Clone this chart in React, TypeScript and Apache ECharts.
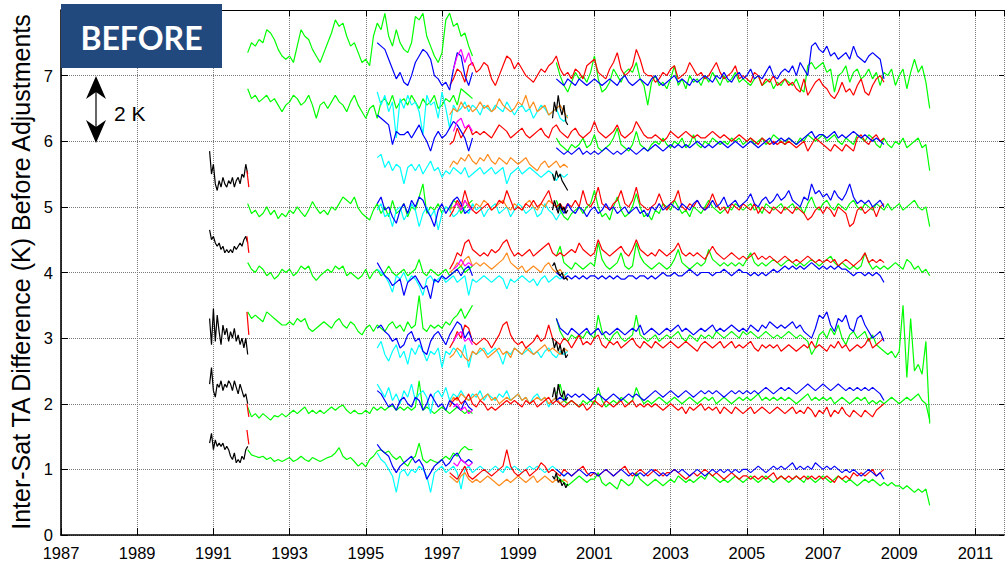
import React, { useEffect, useRef } from "react";
import * as echarts from "echarts";

// All values in hundredths of a kelvin (K x 100), sampled at regular steps in years.
// ---------- Black, early period (1990.9 - 1991.9, step 0.05 yr)
const BLACK_EARLY_START = 1990.9;
const BLACK_EARLY_STEP = 0.05;
const K_E54 = [585,550,565,535,525,540,530,545,535,530,540,535,545,530,540,545,535,550,545,565,550];
const K_E44 = [465,450,455,445,440,445,435,440,430,435,430,435,430,440,435,440,445,440,450,455,445];
const K_E30 = [330,290,345,295,335,310,290,320,305,315,295,310,300,315,295,305,290,300,285,300,275];
const K_E22 = [230,255,220,210,230,225,235,220,230,225,235,230,220,235,225,215,230,220,210,215,200];
const K_E13 = [140,155,130,145,135,140,135,140,130,135,130,120,115,125,110,115,110,120,115,130,135];

// ---------- Short red joins at end of 1991 (start 1991.88, step 0.05)
const RED_TAIL_START = 1991.88;
const RED_TAIL_STEP = 0.05;
const RT_54 = [555, 530];
const RT_44 = [455, 430];
const RT_30 = [340, 305];
const RT_22 = [200, 180];
const RT_13 = [160, 138];

// ---------- Green, early period (1991.9 - 1997.8, step 0.1)
const GREEN_EARLY_START = 1991.9;
const G_E75 = [735,750,745,755,750,770,765,755,740,730,725,730,720,745,770,760,755,740,730,720,735,750,765,785,775,780,760,745,750,735,720,725,715,760,780,770,795,760,745,770,750,740,735,750,790,785,795,760,745,730,720,735,785,795,775,780,760,765,745,730];
const G_E66 = [680,665,670,660,665,670,660,665,655,645,655,660,670,665,655,660,670,655,635,655,660,650,660,670,660,655,645,660,670,655,645,635,650,655,635,660,665,655,670,650,660,665,655,670,660,650,665,655,660,670,650,655,665,660,670,655,680,675,670,665];
const G_E50 = [505,490,495,485,490,500,488,495,482,490,485,495,490,500,492,485,495,508,498,490,495,488,500,495,505,515,510,505,515,498,490,485,480,495,505,490,500,485,510,490,495,505,485,500,495,515,535,490,500,495,505,490,500,495,510,505,490,500,505,510];
const G_E41 = [415,405,400,410,405,395,400,390,395,405,400,405,395,400,410,405,410,395,388,395,400,405,400,410,405,410,395,400,395,390,395,405,390,400,405,395,400,410,400,395,400,405,395,400,405,420,400,395,405,400,395,400,405,395,400,405,410,400,405,410];
const G_E32 = [340,330,335,330,325,340,335,330,325,320,320,325,320,330,325,330,315,310,315,320,325,320,315,325,330,320,315,325,320,310,305,315,320,310,320,315,310,320,325,315,320,310,325,315,320,365,315,310,320,315,320,315,325,320,330,335,345,330,340,350];
const G_E19 = [195,180,185,178,185,180,175,182,180,185,180,185,190,185,190,195,185,190,185,190,185,190,195,190,195,198,190,185,190,185,185,190,185,195,190,195,190,195,197,190,195,190,195,190,195,235,190,195,190,185,190,195,190,185,190,195,190,185,190,185];
const G_E12 = [130,122,120,118,120,115,118,112,115,112,115,118,112,115,120,115,112,118,115,112,115,118,120,125,133,120,115,118,112,105,110,104,115,120,128,130,125,128,120,115,120,110,105,115,120,140,115,110,115,112,110,115,120,115,125,120,130,135,130,130];

// ---------- Blue, early period (1995.3 - 1997.8, step 0.1)
const BLUE_EARLY_START = 1995.3;
const B_E72 = [750,745,740,725,710,695,705,690,685,700,720,730,740,735,725,700,695,685,690,678,710,735,730,700,685,705];
const B_E61 = [640,635,630,625,595,615,610,610,615,605,615,625,610,600,585,605,615,605,610,620,630,625,615,605,585,605];
const B_E50 = [505,515,495,500,485,475,495,505,490,510,500,515,510,495,485,470,495,505,490,500,510,515,505,490,495,500];
const B_E39 = [415,405,395,390,380,385,390,365,385,390,395,385,375,380,360,390,385,395,390,395,400,405,395,405,410,395];
const B_E30 = [315,320,310,305,295,300,285,290,305,310,295,300,280,275,295,305,310,300,290,305,315,325,320,300,310,295];
const B_E20 = [220,215,205,195,200,190,205,210,200,195,210,205,190,200,215,205,195,200,190,205,200,195,190,205,195,190];
const B_E11 = [138,130,125,120,105,95,105,110,115,120,110,115,105,85,95,105,110,115,105,110,120,125,115,110,115,110];

// ---------- Cyan (1995.3 - 2000.3, step 0.1)
const CYAN_START = 1995.3;
const C65 = [675,655,670,645,660,605,665,650,670,655,660,645,610,670,655,660,635,675,650,620,655,645,650,660,645,655,650,640,655,650,645,655,650,645,660,650,640,650,655,645,650,635,645,655,650,640,645,650,635,630,640];
const C56 = [575,580,560,570,555,565,560,535,560,565,555,565,550,560,570,555,560,545,555,550,560,555,550,560,545,550,555,560,550,555,560,550,555,560,535,550,555,560,550,555,560,555,550,545,550,555,550,540,550,545,550];
const C49 = [495,505,485,490,470,495,500,480,490,505,495,470,490,500,485,495,465,490,500,495,485,490,500,495,490,505,495,500,485,495,500,505,490,495,500,485,495,505,500,490,495,500,485,490,505,495,490,480,490,495,500];
const C39 = [405,400,395,385,370,395,390,400,385,395,390,380,365,390,395,385,390,395,385,390,395,385,390,395,365,390,385,390,395,390,385,390,395,390,375,390,385,390,395,390,385,390,380,390,395,385,390,395,390,395,400];
const C28 = [285,295,275,265,280,290,270,280,260,285,275,290,280,265,280,275,285,255,280,275,285,280,270,290,255,280,275,280,285,275,280,285,275,260,280,275,285,280,275,280,285,275,280,270,280,285,275,270,280,275,280];
const C20 = [230,220,210,225,205,215,200,220,210,230,205,215,220,210,185,215,220,210,225,205,215,210,220,210,205,215,210,220,205,215,210,205,215,210,220,205,210,215,205,210,200,210,215,205,210,195,205,210,200,205,210];
const C10 = [125,115,110,100,90,65,95,100,90,100,95,105,100,90,65,95,100,105,95,100,105,95,70,100,105,95,100,105,100,95,100,105,100,95,105,100,105,100,95,100,105,100,105,100,95,100,105,100,95,90,95];

// ---------- Orange (1997.2 - 2000.3, step 0.1)
const ORANGE_START = 1997.2;
const O65 = [640,650,645,660,650,655,645,650,660,650,655,645,650,665,655,650,645,650,660,655,670,650,660,645,650,655,640,645,650,655,645,635];
const O56 = [560,570,565,575,570,580,570,565,575,570,580,570,565,575,570,565,575,570,565,570,575,565,560,555,565,570,560,565,570,560,565,560];
const O50 = [495,500,505,495,510,500,495,505,500,510,505,495,500,505,510,500,495,505,500,495,505,510,500,495,505,500,510,505,500,505,495,500];
const O41 = [400,405,415,410,420,425,410,415,410,415,410,405,410,415,420,430,415,410,405,410,400,405,410,405,400,410,415,405,400,405,395,390];
const O28 = [270,275,285,280,270,265,280,275,285,280,270,275,280,285,275,280,270,285,280,275,285,280,275,280,285,290,280,285,280,275,285,280];
const O20 = [200,210,205,215,210,205,210,215,205,210,215,205,210,200,205,210,205,210,215,205,210,200,205,210,205,210,200,205,210,200,205,200];
const O08 = [90,85,80,90,95,85,80,85,80,85,90,85,80,75,80,85,80,85,90,85,80,85,90,80,85,90,85,80,85,80,85,80];

// ---------- Magenta (1997.3 - 1997.8, step 0.1)
const MAGENTA_START = 1997.3;
const M72 = [710,730,740,720,735,715];
const M62 = [615,630,635,620,625,615];
const M50 = [500,505,495,510,500,495];
const M41 = [405,410,420,410,415,410];
const M29 = [295,305,310,295,300,290];
const M19 = [195,200,190,195,185,190];
const M11 = [110,105,115,110,105,110];

// ---------- Black, late period (1999.9 - 2000.3, step 0.05)
const BLACK_LATE_START = 1999.9;
const BLACK_LATE_STEP = 0.05;
const K_L64 = [635,660,645,670,650,640,655,630,625];
const K_L54 = [550,540,555,545,550,540,535,530,525];
const K_L50 = [495,510,500,490,505,495,500,490,495];
const K_L40 = [410,415,405,400,395,400,390,392,388];
const K_L28 = [300,285,295,280,290,275,285,270,275];
const K_L21 = [210,225,205,230,215,210,220,205,210];
const K_L08 = [90,85,95,80,85,75,80,72,78];

// ---------- Red (1997.2 - 2008.6, step 0.1)
const RED_START = 1997.2;
const R70 = [685,695,710,705,690,715,720,705,710,720,715,695,685,700,715,730,725,710,720,710,700,695,690,700,710,705,715,720,730,710,700,705,695,710,705,695,715,720,725,705,700,695,710,720,735,710,700,705,715,740,725,705,700,700,690,695,705,700,710,715,695,700,705,720,710,700,705,695,700,710,720,705,695,700,705,715,695,700,695,690,705,700,685,695,690,700,685,690,695,685,690,680,675,695,670,680,690,695,685,680,670,665,675,690,675,680,670,685,695,675,670,685,695,700,690];
const R61 = [595,600,620,605,615,625,610,615,610,615,610,605,615,625,620,615,605,610,615,620,610,605,610,615,620,610,605,620,625,615,610,605,615,620,610,605,610,615,630,615,610,605,610,615,625,610,605,610,615,630,620,610,605,605,610,605,600,605,615,610,605,610,615,610,605,610,605,605,610,615,610,605,610,605,600,605,610,605,600,605,600,595,605,600,595,600,595,600,595,600,595,590,595,600,585,595,605,600,595,590,585,595,590,585,595,590,585,605,610,600,595,605,610,600,605];
const R50 = [485,495,510,500,525,505,495,490,495,500,505,495,500,510,505,525,510,495,500,495,505,500,510,500,505,515,525,505,500,505,495,505,500,510,500,525,505,500,510,530,505,500,495,505,510,525,505,500,510,530,505,500,495,500,505,520,505,495,505,510,525,500,495,505,500,510,500,495,505,520,505,495,500,490,505,500,495,505,500,495,505,490,500,495,490,500,495,490,500,495,490,500,495,490,480,485,495,500,490,500,495,485,500,495,490,470,475,495,500,490,495,500,485,500,505];
const R43 = [405,415,430,425,445,450,435,430,425,430,425,435,430,435,445,450,435,425,430,425,430,435,425,430,435,440,445,430,425,430,425,430,435,430,445,435,430,425,430,450,435,430,425,430,435,440,430,425,435,450,435,430,425,430,425,435,430,425,430,435,445,430,425,430,425,430,425,420,430,440,430,425,420,425,430,425,420,425,420,425,430,420,425,420,425,420,415,420,425,420,415,420,415,420,425,420,415,420,415,420,415,420,410,415,420,415,410,415,420,430,415,420,415,420,415];
const R29 = [285,295,310,300,320,315,295,290,295,300,295,285,295,305,320,325,305,295,290,295,285,290,295,305,295,300,320,300,295,290,300,295,285,295,305,290,295,290,300,305,290,285,295,290,295,285,290,295,300,290,285,295,290,285,295,290,285,290,295,290,285,290,295,290,285,280,290,295,290,285,290,295,285,290,295,285,290,285,290,295,285,280,290,285,290,285,290,280,285,290,285,280,285,290,285,295,285,290,285,280,290,285,295,285,290,280,285,290,285,290,300,285,290,295,300];
const R20 = [195,205,210,200,205,215,200,195,205,200,190,195,190,195,200,205,200,205,200,195,205,200,205,195,200,205,210,200,205,200,195,200,205,200,195,200,190,195,205,200,195,205,200,195,200,205,195,200,205,195,200,195,200,195,200,195,190,195,200,195,190,195,185,195,190,195,200,190,195,190,195,185,195,190,185,195,190,185,190,195,185,190,195,190,185,190,195,190,185,190,195,185,190,185,195,190,180,190,185,195,180,190,185,195,185,180,190,185,180,190,185,180,190,195,200];
const R10 = [95,90,85,95,105,90,85,90,95,100,95,90,95,100,105,130,105,95,90,95,100,90,95,100,110,105,95,100,95,90,100,95,90,95,100,105,95,90,95,90,95,100,95,90,95,100,105,95,90,95,100,95,90,95,100,95,90,95,95,100,95,90,85,90,95,90,95,100,95,90,95,90,85,90,95,90,85,90,90,85,90,85,90,85,90,95,85,90,85,90,85,90,85,90,85,90,85,90,85,90,85,80,90,85,90,85,95,90,95,90,95,100,90,95,100];

// ---------- Blue, late period (2000.0 - 2008.6, step 0.1)
const BLUE_LATE_START = 2000.0;
const B_L70 = [695,690,685,695,690,685,695,690,685,690,695,690,685,690,695,690,685,695,700,690,685,690,695,690,685,695,700,690,685,690,695,700,690,695,690,685,695,690,695,700,695,690,700,695,705,695,690,700,705,695,700,710,695,700,695,705,715,700,695,705,710,705,715,700,720,710,700,745,750,740,735,745,730,735,725,730,735,725,745,730,725,720,730,735,730,725,695];
const B_L59 = [590,585,580,585,580,585,590,580,585,580,585,580,585,590,585,580,585,580,585,590,585,580,585,590,585,590,595,590,585,590,595,590,595,590,595,590,595,600,595,590,595,590,595,600,595,590,595,600,595,590,595,600,595,590,595,600,605,595,600,605,600,605,600,595,600,605,610,615,605,610,610,605,610,615,605,610,605,610,615,610,605,610,605,600,605,600,595];
const B_L50 = [495,500,490,505,495,490,500,495,485,495,500,490,495,505,495,500,490,495,500,490,495,500,490,495,485,500,495,505,495,500,505,500,495,505,500,495,505,510,500,495,500,510,500,505,515,500,505,510,500,505,510,520,505,500,510,515,505,510,520,510,515,525,510,505,500,515,510,535,520,525,515,520,510,525,515,510,520,535,515,505,510,505,510,500,505,510,500];
const B_L40 = [400,395,390,395,390,395,390,395,390,395,395,390,395,390,395,390,395,390,390,395,395,390,395,395,390,395,390,395,400,395,395,400,395,395,400,405,400,395,400,400,400,395,400,400,405,400,395,400,405,400,400,395,400,395,400,395,400,405,400,405,410,405,410,405,410,405,410,415,410,405,410,405,410,405,410,405,405,400,395,400,400,395,400,395,400,395,385];
const B_L31 = [330,315,310,305,315,310,305,310,315,305,310,315,305,310,305,310,315,310,305,310,315,310,320,305,310,315,310,305,310,315,310,315,320,310,315,310,305,310,315,310,315,320,310,315,310,315,320,315,310,315,310,320,315,310,320,315,325,320,315,320,315,320,325,315,320,310,305,300,315,335,330,340,320,310,330,325,335,315,310,330,335,320,310,300,305,310,295];
const B_L21 = [205,210,205,215,210,215,210,215,210,205,210,215,210,205,210,215,210,205,210,215,210,215,210,205,210,215,220,215,210,215,220,215,210,215,220,215,210,215,220,215,220,215,220,215,210,215,220,215,220,215,220,215,220,215,220,225,220,215,220,225,220,225,220,215,220,225,230,225,220,225,230,225,220,225,230,225,220,225,220,225,220,225,220,225,220,215,205];
const B_L10 = [100,95,90,95,90,95,100,95,90,95,95,90,95,100,95,90,95,100,95,90,95,90,95,90,95,100,95,90,95,90,95,100,95,100,95,90,95,100,95,90,95,100,95,100,95,100,95,100,95,100,100,95,100,105,100,95,100,105,100,105,100,105,110,100,105,100,105,100,110,105,100,105,100,105,100,95,100,95,100,95,90,95,100,95,90,95,85];

// ---------- Green, late period (2000.0 - 2009.8, step 0.1)
const GREEN_LATE_START = 2000.0;
const G_L70 = [720,700,685,675,690,705,695,700,690,705,730,695,675,680,690,710,700,690,705,710,705,720,695,685,655,690,700,685,690,680,695,715,685,695,680,700,690,695,685,700,690,705,695,685,700,690,695,705,690,695,690,685,695,700,685,690,695,680,690,685,695,690,685,695,680,675,715,720,710,715,720,705,710,675,700,705,715,690,705,710,695,700,710,695,705,685,705,700,710,685,700,710,680,705,725,705,715,690,650];
const G_L59 = [605,595,590,585,595,590,595,605,590,595,610,590,585,590,595,605,620,595,590,585,595,615,595,590,585,595,600,595,605,595,590,600,595,605,590,595,610,595,590,600,595,605,600,595,600,595,605,600,605,595,600,605,595,600,605,595,600,610,605,600,595,605,600,595,605,600,610,605,600,605,610,600,605,610,600,595,605,600,595,610,605,600,610,605,595,590,605,595,590,600,595,605,590,595,600,605,590,595,555];
const G_L50 = [510,495,485,480,490,495,500,490,500,505,525,500,485,490,480,500,515,495,485,490,500,520,500,485,490,480,495,490,505,500,495,510,500,490,495,485,500,495,490,500,510,500,495,490,495,500,495,505,500,495,500,505,495,500,490,505,500,495,500,505,495,500,505,495,500,490,505,515,500,495,505,510,500,495,505,500,495,505,510,500,495,505,500,495,505,500,495,505,495,500,505,495,500,505,510,500,495,500,470];
const G_L42 = [425,440,415,410,405,415,410,405,410,415,410,445,420,410,405,410,415,430,410,405,410,445,425,415,410,405,410,415,410,405,410,420,435,415,410,405,410,415,410,415,435,420,415,410,415,410,415,410,415,410,420,430,415,410,415,410,415,420,415,410,415,420,415,410,415,410,415,420,415,410,415,420,425,415,410,415,410,405,410,405,410,430,415,405,410,405,410,405,410,415,410,405,420,415,405,410,400,405,395];
const G_L30 = [330,310,300,295,305,300,305,300,310,305,300,335,310,300,295,305,310,300,295,300,305,335,305,300,295,300,305,295,300,305,300,305,310,300,295,305,300,295,305,300,305,300,310,305,300,305,310,305,300,310,305,310,305,300,305,310,305,300,305,300,305,310,305,300,305,300,295,275,285,305,310,300,315,305,320,300,290,305,310,300,305,310,295,305,290,285,280,275,280,270,280,350,240,330,250,260,245,295,170];
const G_L20 = [215,230,205,200,205,200,195,205,200,205,200,225,205,195,200,205,200,210,205,200,205,225,210,200,205,200,205,210,205,200,205,210,205,200,205,210,205,200,205,210,205,210,200,205,210,205,200,205,210,205,210,205,210,215,205,210,205,210,205,210,205,210,205,200,205,210,215,205,210,205,210,205,210,200,205,210,205,200,205,210,205,210,200,205,200,205,200,205,210,205,200,205,210,205,210,215,205,200,175];
const G_L09 = [90,85,80,75,80,85,90,85,80,85,85,95,80,75,80,75,70,85,80,75,80,95,85,80,75,80,85,80,75,80,85,80,90,85,80,85,80,85,90,85,95,90,85,80,85,80,85,90,85,80,85,90,85,80,85,90,85,80,85,90,85,80,85,90,85,80,90,85,80,85,90,85,80,85,90,85,80,85,80,75,80,85,80,85,80,75,80,75,80,75,75,70,75,70,65,70,65,70,45];

// ---------- Axis ticks
const X_MIN = 1987;
const X_MAX = 2011.75;
const X_TICK_STEP = 2;
const Y_MIN = 0;
const Y_MAX = 8;
const Y_TICK_STEP = 1;

const COLORS = {
  green: "#00ff00",
  blue: "#0000ff",
  red: "#ff0000",
  cyan: "#00ffff",
  orange: "#ff8c1e",
  magenta: "#ff00ff",
  black: "#000000",
};

const FONT = '"Liberation Sans", Arial, Helvetica, sans-serif';

function toPoints(start: number, step: number, vals: number[]) {
  return vals.map((v, i) => [Math.round((start + i * step) * 1000) / 1000, v / 100]);
}

function lineSeries(start: number, step: number, vals: number[], color: string, z: number) {
  return {
    type: "line",
    data: toPoints(start, step, vals),
    showSymbol: false,
    symbol: "none",
    silent: true,
    z,
    lineStyle: { color, width: 1.2 },
    itemStyle: { color },
    emphasis: { disabled: true },
  };
}

function buildSeries() {
  const s: any[] = [];
  [G_E75, G_E66, G_E50, G_E41, G_E32, G_E19, G_E12].forEach((v) =>
    s.push(lineSeries(GREEN_EARLY_START, 0.1, v, COLORS.green, 2)));
  [K_E54, K_E44, K_E30, K_E22, K_E13].forEach((v) =>
    s.push(lineSeries(BLACK_EARLY_START, BLACK_EARLY_STEP, v, COLORS.black, 2)));
  [RT_54, RT_44, RT_30, RT_22, RT_13].forEach((v) =>
    s.push(lineSeries(RED_TAIL_START, RED_TAIL_STEP, v, COLORS.red, 3)));
  [C65, C56, C49, C39, C28, C20, C10].forEach((v) =>
    s.push(lineSeries(CYAN_START, 0.1, v, COLORS.cyan, 3)));
  [O65, O56, O50, O41, O28, O20, O08].forEach((v) =>
    s.push(lineSeries(ORANGE_START, 0.1, v, COLORS.orange, 4)));
  [G_L70, G_L59, G_L50, G_L42, G_L30, G_L20, G_L09].forEach((v) =>
    s.push(lineSeries(GREEN_LATE_START, 0.1, v, COLORS.green, 4)));
  [R70, R61, R50, R43, R29, R20, R10].forEach((v) =>
    s.push(lineSeries(RED_START, 0.1, v, COLORS.red, 5)));
  [B_E72, B_E61, B_E50, B_E39, B_E30, B_E20, B_E11].forEach((v) =>
    s.push(lineSeries(BLUE_EARLY_START, 0.1, v, COLORS.blue, 6)));
  [B_L70, B_L59, B_L50, B_L40, B_L31, B_L21, B_L10].forEach((v) =>
    s.push(lineSeries(BLUE_LATE_START, 0.1, v, COLORS.blue, 6)));
  [M72, M62, M50, M41, M29, M19, M11].forEach((v) =>
    s.push(lineSeries(MAGENTA_START, 0.1, v, COLORS.magenta, 7)));
  [K_L64, K_L54, K_L50, K_L40, K_L28, K_L21, K_L08].forEach((v) =>
    s.push(lineSeries(BLACK_LATE_START, BLACK_LATE_STEP, v, COLORS.black, 7)));
  return s;
}

export default function App() {
  const ref = useRef<HTMLDivElement>(null);

  useEffect(() => {
    if (!ref.current) return;
    const chart = echarts.init(ref.current, null, { renderer: "svg" });
    const gridLine = { show: true, lineStyle: { color: "#7a7a7a", type: "dotted" as const, width: 1 } };
    const option: any = {
      animation: false,
      backgroundColor: "#ffffff",
      grid: { left: 61, right: 1, top: 10, bottom: 28, containLabel: false },
      xAxis: [
        {
          type: "value",
          min: X_MIN,
          max: X_MAX,
          interval: X_TICK_STEP,
          position: "bottom",
          axisLine: { show: true, onZero: false, lineStyle: { color: "#000", width: 1.6 } },
          axisTick: { show: true, inside: true, length: 7, lineStyle: { color: "#000", width: 1 } },
          axisLabel: {
            color: "#000",
            fontSize: 16.5,
            fontFamily: FONT,
            margin: 9,
            showMaxLabel: false,
            formatter: (v: number) => (Number.isInteger(v) ? String(v) : ""),
          },
          splitLine: gridLine,
        },
        {
          type: "value",
          min: X_MIN,
          max: X_MAX,
          interval: X_TICK_STEP,
          position: "top",
          axisLine: { show: true, onZero: false, lineStyle: { color: "#000", width: 1.2 } },
          axisTick: { show: true, inside: true, length: 6, lineStyle: { color: "#000" } },
          axisLabel: { show: false },
          splitLine: { show: false },
        },
      ],
      yAxis: [
        {
          type: "value",
          min: Y_MIN,
          max: Y_MAX,
          interval: Y_TICK_STEP,
          position: "left",
          axisLine: { show: true, onZero: false, lineStyle: { color: "#000", width: 1.6 } },
          axisTick: { show: true, inside: true, length: 7, lineStyle: { color: "#000" } },
          axisLabel: { color: "#000", fontSize: 16.5, fontFamily: FONT, margin: 8, showMaxLabel: false },
          splitLine: gridLine,
        },
        {
          type: "value",
          min: Y_MIN,
          max: Y_MAX,
          interval: Y_TICK_STEP,
          position: "right",
          axisLine: { show: false },
          axisTick: { show: true, inside: true, length: 5, lineStyle: { color: "#000" } },
          axisLabel: { show: false },
          splitLine: { show: false },
        },
      ],
      series: buildSeries(),
      graphic: [
        {
          type: "rect",
          z: 100,
          shape: { x: 61, y: 4, width: 161, height: 64 },
          style: { fill: "#22497d" },
        },
        {
          type: "text",
          z: 101,
          x: 141.5,
          y: 37,
          style: {
            text: "BEFORE",
            fill: "#ffffff",
            fontSize: 32,
            fontWeight: "bold",
            fontFamily: 'Lato, "Open Sans", sans-serif',
            align: "center",
            verticalAlign: "middle",
          },
        },
        {
          type: "line",
          z: 100,
          shape: { x1: 96, y1: 90, x2: 96, y2: 128 },
          style: { stroke: "#000", lineWidth: 1.2 },
        },
        {
          type: "polygon",
          z: 100,
          shape: { points: [[96, 76], [86, 99], [96, 92], [106, 99]] },
          style: { fill: "#000" },
        },
        {
          type: "polygon",
          z: 100,
          shape: { points: [[96, 143], [86, 120], [96, 127], [106, 120]] },
          style: { fill: "#000" },
        },
        {
          type: "text",
          z: 100,
          x: 114,
          y: 113,
          style: {
            text: "2 K",
            fill: "#000",
            fontSize: 21,
            fontFamily: FONT,
            align: "left",
            verticalAlign: "middle",
          },
        },
        {
          type: "text",
          z: 100,
          x: 21,
          y: 272,
          rotation: Math.PI / 2,
          style: {
            text: "Inter-Sat TA Difference (K) Before Adjustments",
            fill: "#000",
            fontSize: 25,
            fontFamily: FONT,
            align: "center",
            verticalAlign: "middle",
          },
        },
      ],
    };
    chart.setOption(option);
    return () => chart.dispose();
  }, []);

  return (
    <div
      ref={ref}
      style={{ position: "absolute", left: 0, top: 0, width: 1005, height: 563, background: "#fff" }}
    />
  );
}
